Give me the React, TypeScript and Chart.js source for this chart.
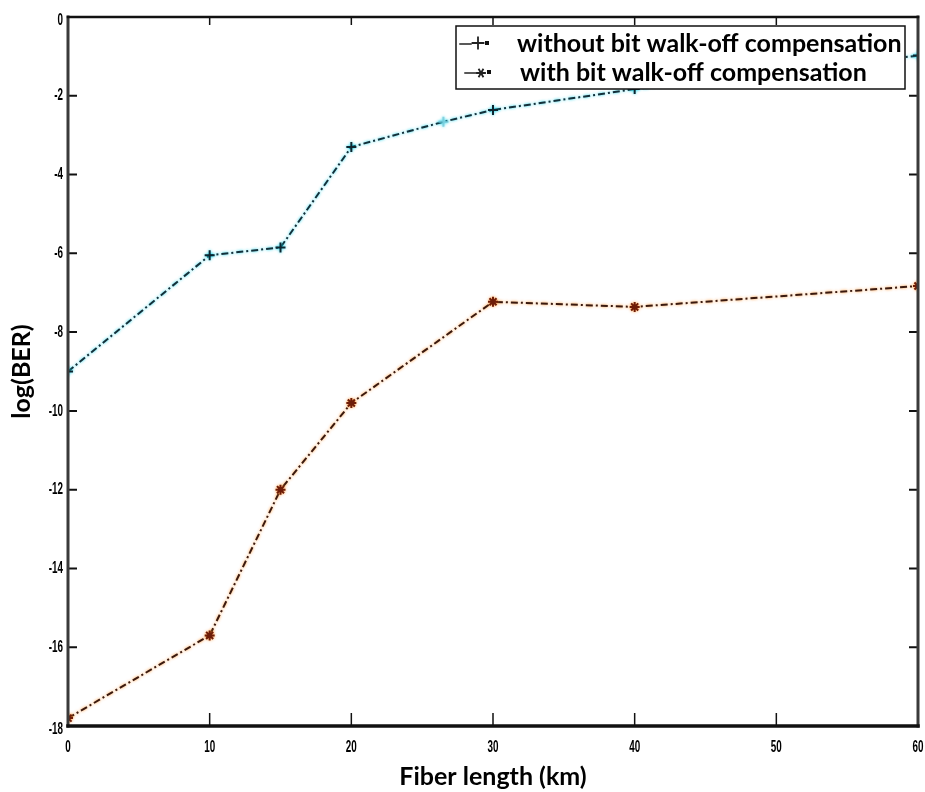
import React, { useEffect, useRef } from "react";
import { Chart, registerables } from "chart.js";

Chart.register(...registerables);

const seriesNames = ["without bit walk-off compensation", "with bit walk-off compensation"];
const withoutX = [0, 10, 15, 20, 26.5, 30, 40, 60];
const withoutY = [-9.0, -6.05, -5.85, -3.3, -2.66, -2.36, -1.83, -0.98];
const withX = [0, 10, 15, 20, 30, 40, 60];
const withY = [-17.8, -15.7, -12.0, -9.8, -7.23, -7.36, -6.83];
const xTicks = [0, 10, 20, 30, 40, 50, 60];
const yTicks = [0, -2, -4, -6, -8, -10, -12, -14, -16, -18];
const xTitle = "Fiber length (km)";
const yTitle = "log(BER)";

const tickFont = "'Liberation Sans', Arial, sans-serif";
const titleFont = "Lato, 'Open Sans', sans-serif";

const glowPlugin = {
  id: "glow",
  beforeDatasetDraw(chart: any, args: any) {
    const ds = chart.data.datasets[args.index];
    const ctx = chart.ctx;
    ctx.save();
    ctx.shadowColor = ds.glow;
    ctx.shadowBlur = 3;
  },
  afterDatasetDraw(chart: any) {
    chart.ctx.restore();
  },
};

function condensedText(ctx: CanvasRenderingContext2D, text: string, x: number, y: number, align: CanvasTextAlign) {
  ctx.save();
  ctx.translate(x, y);
  ctx.scale(0.58, 1);
  ctx.textAlign = align;
  ctx.textBaseline = "middle";
  ctx.fillText(text, 0, 0);
  ctx.restore();
}

const framePlugin = {
  id: "frame",
  afterDatasetsDraw(chart: any) {
    const { ctx, chartArea: a, scales } = chart;
    const xs = scales.x;
    const ys = scales.y;
    ctx.save();
    // inward ticks
    ctx.strokeStyle = "#111";
    ctx.lineWidth = 1.5;
    xs.ticks.forEach((t: any) => {
      const px = xs.getPixelForValue(t.value);
      ctx.beginPath();
      ctx.moveTo(px, a.bottom);
      ctx.lineTo(px, a.bottom - 13);
      ctx.moveTo(px, a.top);
      ctx.lineTo(px, a.top + 8);
      ctx.stroke();
    });
    ctx.lineWidth = 2;
    ys.ticks.forEach((t: any) => {
      const py = ys.getPixelForValue(t.value);
      ctx.beginPath();
      ctx.moveTo(a.left, py);
      ctx.lineTo(a.left + 9, py);
      ctx.moveTo(a.right, py);
      ctx.lineTo(a.right - 9, py);
      ctx.stroke();
    });
    // tick labels (condensed bold)
    ctx.fillStyle = "#000";
    ctx.font = `bold 17px ${tickFont}`;
    xs.ticks.forEach((t: any) => {
      const px = xs.getPixelForValue(t.value);
      condensedText(ctx, String(t.value), px, a.bottom + 21, "center");
    });
    ys.ticks.forEach((t: any) => {
      const py = ys.getPixelForValue(t.value);
      const dy = t.value === -18 ? 3 : t.value === 0 ? 3 : 0;
      condensedText(ctx, String(t.value), a.left - 5, py + dy, "right");
    });

    // box
    ctx.lineCap = "square";
    ctx.strokeStyle = "#3a3a3a";
    ctx.lineWidth = 3;
    ctx.beginPath();
    ctx.moveTo(a.left, a.top);
    ctx.lineTo(a.left, a.bottom);
    ctx.stroke();
    ctx.beginPath();
    ctx.moveTo(a.right, a.top);
    ctx.lineTo(a.right, a.bottom);
    ctx.stroke();
    ctx.strokeStyle = "#111";
    ctx.lineWidth = 2.5;
    ctx.beginPath();
    ctx.moveTo(a.left, a.top);
    ctx.lineTo(a.right, a.top);
    ctx.stroke();
    ctx.lineWidth = 3.5;
    ctx.beginPath();
    ctx.moveTo(a.left, a.bottom);
    ctx.lineTo(a.right, a.bottom);
    ctx.stroke();

    // legend box
    const lx = 456, ly = 26, lw = 449, lh = 63;
    ctx.fillStyle = "#fff";
    ctx.fillRect(lx, ly, lw, lh);
    ctx.strokeStyle = "#111";
    ctx.lineWidth = 1.5;
    ctx.strokeRect(lx, ly, lw, lh);

    const rows = [
      { y: 43, marker: "cross", text: seriesNames[0], tx: 517 },
      { y: 72, marker: "star", text: seriesNames[1], tx: 520 },
    ];
    rows.forEach((r, i) => {
      ctx.strokeStyle = "#222";
      ctx.lineWidth = 1.5;
      ctx.beginPath();
      const d0 = i === 0 ? 460 : 465;
      ctx.moveTo(d0, r.y + 1);
      ctx.lineTo(d0 + 11, r.y + 1);
      ctx.stroke();
      const mx = i === 0 ? 478 : 481;
      ctx.lineWidth = 1.8;
      ctx.beginPath();
      if (r.marker === "cross") {
        ctx.moveTo(mx - 5.5, r.y);
        ctx.lineTo(mx + 5.5, r.y);
        ctx.moveTo(mx, r.y - 5.5);
        ctx.lineTo(mx, r.y + 5.5);
      } else {
        for (let k = 0; k < 3; k++) {
          const ang = (k * Math.PI) / 3;
          ctx.moveTo(mx - 4 * Math.cos(ang), r.y + 1 - 4 * Math.sin(ang));
          ctx.lineTo(mx + 4 * Math.cos(ang), r.y + 1 + 4 * Math.sin(ang));
        }
      }
      ctx.stroke();
      ctx.fillStyle = "#111";
      ctx.fillRect((i === 0 ? 487 : 489) - 2, r.y - 2, 4, 4);
      ctx.fillStyle = "#000";
      ctx.font = `bold 25px ${titleFont}`;
      ctx.textBaseline = "middle";
      ctx.textAlign = "left";
      ctx.fillText(r.text, r.tx, r.y + 1);
    });
    ctx.restore();
  },
};

export default function App() {
  const canvasRef = useRef<HTMLCanvasElement | null>(null);

  useEffect(() => {
    const canvas = canvasRef.current;
    if (!canvas) return;
    const chart = new Chart(canvas, {
      type: "line",
      data: {
        datasets: [
          {
            label: seriesNames[0],
            data: withoutX.map((x, i) => ({ x, y: withoutY[i] })),
            borderColor: "#14303a",
            borderWidth: 2,
            borderDash: [7, 3, 2, 3],
            pointStyle: "cross",
            pointRadius: 5,
            pointBorderWidth: 2,
            pointBorderColor: withoutX.map((x) => (x === 26.5 ? "rgba(120,200,215,0.8)" : "#0e2630")),
            backgroundColor: "transparent",
            fill: false,
            tension: 0,
            glow: "rgba(0,210,235,0.9)",
          } as any,
          {
            label: seriesNames[1],
            data: withX.map((x, i) => ({ x, y: withY[i] })),
            borderColor: "#3a1a10",
            borderWidth: 2,
            borderDash: [7, 3, 2, 3],
            pointStyle: "star",
            pointRadius: 5,
            pointBorderWidth: 2,
            pointBorderColor: "#6e1c08",
            backgroundColor: "transparent",
            fill: false,
            tension: 0,
            glow: "rgba(255,140,30,0.9)",
          } as any,
        ],
      },
      options: {
        responsive: false,
        animation: false,
        devicePixelRatio: 1,
        layout: { padding: { left: 0, right: 7, top: 17, bottom: 0 } },
        plugins: {
          legend: { display: false },
          tooltip: { enabled: false },
        },
        scales: {
          x: {
            type: "linear",
            min: 0,
            max: 60,
            afterFit: (s: any) => {
              s.height = 66;
              s.paddingLeft = 0;
              s.paddingRight = 0;
            },
            afterBuildTicks: (s: any) => {
              s.ticks = xTicks.map((v) => ({ value: v }));
            },
            grid: { display: false, drawTicks: false },
            border: { display: false },
            ticks: { display: false },
            title: {
              display: true,
              text: xTitle,
              color: "#000",
              font: { family: titleFont, size: 25, weight: "bold" },
              padding: { top: 0, bottom: 0 },
            },
          },
          y: {
            type: "linear",
            min: -18,
            max: 0,
            afterFit: (s: any) => {
              s.width = 68;
              s.paddingTop = 0;
              s.paddingBottom = 0;
            },
            afterBuildTicks: (s: any) => {
              s.ticks = yTicks.map((v) => ({ value: v }));
            },
            grid: { display: false, drawTicks: false },
            border: { display: false },
            ticks: { display: false },
            title: {
              display: true,
              text: yTitle,
              color: "#000",
              font: { family: titleFont, size: 25, weight: "bold" },
              padding: { top: 7, bottom: 0 },
            },
          },
        },
      },
      plugins: [glowPlugin, framePlugin],
    });
    return () => chart.destroy();
  }, []);

  return (
    <div style={{ position: "absolute", left: 0, top: 0, width: 925, height: 792, background: "#fff" }}>
      <canvas ref={canvasRef} width={925} height={792} style={{ width: 925, height: 792, display: "block" }} />
    </div>
  );
}
